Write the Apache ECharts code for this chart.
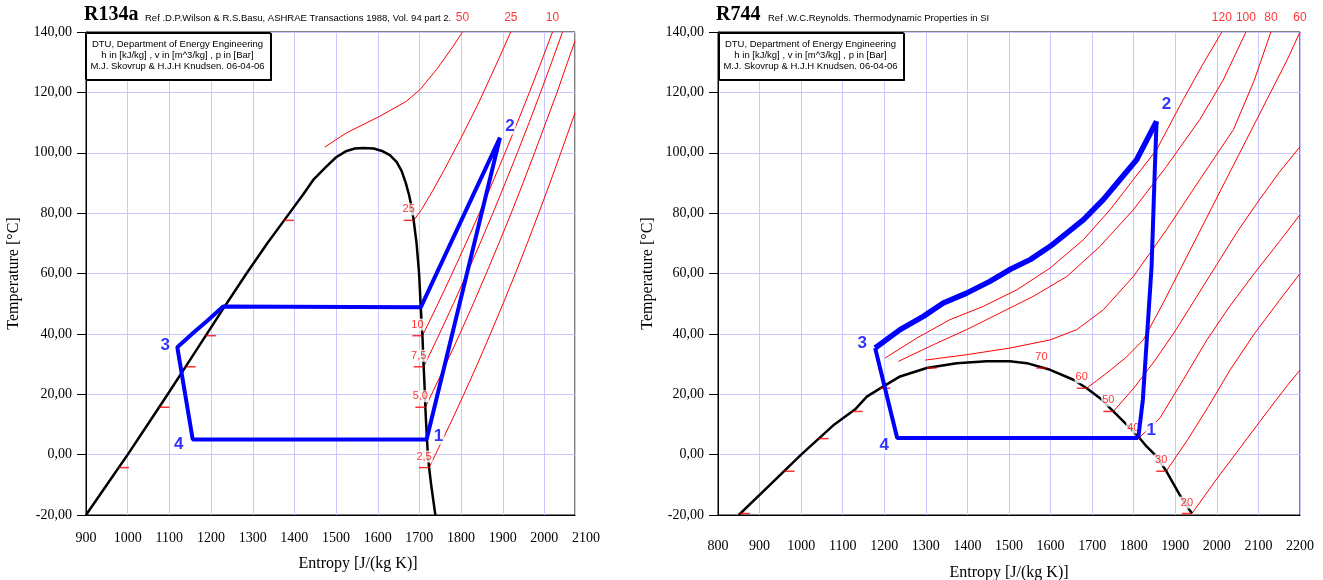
<!DOCTYPE html>
<html>
<head>
<meta charset="utf-8">
<script src="https://cdn.jsdelivr.net/npm/echarts@6/dist/echarts.min.js"></script>
<style>
html,body{margin:0;padding:0;background:#fff}
#chart{width:1323px;height:580px}
</style>
</head>
<body>
<div id="chart"></div>
<script>
// ---------- R134a  (entropy J/(kg K), temperature °C) ----------
const r134aDome = [
  [900,-20],[950,-10],[1000,0],[1048,10],[1096,20],[1143,30],[1190,40],[1237,50],[1285,60],
  [1335,70],[1388,80],[1420,86],[1445,91],[1477,95.5],[1500,98.5],[1525,100.6],[1545,101.4],
  [1565,101.6],[1590,101.4],[1610,100.6],[1629,99.2],[1645,97],[1657,94],[1667,90],[1675,86],
  [1681,82],[1686,77.6],[1693,70],[1699,60],[1703,48.8],[1707,39.4],[1710,29.1],[1713,20],
  [1714,15.7],[1716,10],[1720,0],[1723,-4.3],[1728,-10],[1738,-20]
];
const r134aCycle = [
  [1717,5],[1893,105],[1703,48.8],[1229,49.1],[1189,44.1],[1161,40.8],[1119,35.6],[1156,5],[1717,5]
];
const r134aP2_5 = [[1723,-4.3],[1738,0],[1773,10],[1806.5,20],[1839,30],[1870,40],[1900.5,50],[1930,60],[1958.5,70],[1986,80],[2013,90],[2039,100],[2073,113.2]];
const r134aP5 = [[1714,15.7],[1729,20],[1763.5,30],[1796.7,40],[1829,50],[1860,60],[1890.4,70],[1920,80],[1948.4,90],[1976,100],[2003,110],[2030,120],[2055,130],[2073,137]];
const r134aP7_5 = [[1710,29.1],[1729.6,34.7],[1747.8,40],[1781.3,50],[1813.8,60],[1845.3,70],[1876,80],[1905.7,90],[1934.7,100],[1963,110],[1990.4,120],[2017,130],[2043,140]];
const r134aP10 = [[1707,39.4],[1719.8,43],[1744.3,50],[1778.4,60],[1811.4,70],[1843.5,80],[1874.8,90],[1905.2,100],[1934.8,110],[1963.6,120],[1991.7,130],[2019,140]];
const r134aP25 = [[1686,77.6],[1705,81.2],[1730,87],[1760,94.5],[1800,105],[1840,116],[1880,128],[1919,140]];
const r134aP50 = [[1473,101.9],[1525,106.6],[1605,112.1],[1669,117.1],[1701,120.9],[1741,127.6],[1781,135.3],[1803,140]];
// saturation marks: pressure [bar] text, liquid side and vapour side points
const r134aMarkText = ['2,5','5,0','7,5','10','25'];
const r134aMarkLiq = [[979,-4.3],[1076,15.7],[1139,29.1],[1188,39.4],[1375,77.6]];
const r134aMarkVap = [[1723,-4.3],[1714,15.7],[1710,29.1],[1707,39.4],[1686,77.6]];
const r134aTopText = ['50','25','10'];

// ---------- R744 ----------
const r744Dome = [
  [850,-20],[925,-10],[1000,0],[1080,10],[1130,15],[1158,19.2],[1198,22.6],[1238,25.9],[1302,28.7],
  [1374,30.3],[1446,30.9],[1502,30.9],[1543,30.3],[1599,28.1],[1655,24.8],[1687,22],[1719,18.7],
  [1751,14.3],[1783,9.9],[1811,6],[1831,2.7],[1855,-0.6],[1879,-5.6],[1911,-13.4],[1940,-19.5]
];
const r744Cycle = [
  [1811,5.5],[1822,18.2],[1843,62.3],[1851,95.5],[1855,110.4],[1807,97.7],[1767,91.1],[1727,84.5],
  [1679,77.8],[1639,73.4],[1599,69.0],[1551,64.6],[1502,61.3],[1454,57.4],[1398,53.5],[1342,50.2],
  [1294,45.8],[1238,41.4],[1178,35.3],[1231,5.5],[1811,5.5]
];
const r744P20 = [[1940,-19.5],[2000,-8],[2060,3],[2120,14],[2170,23],[2200,28]];
const r744P30 = [[1878,-5.5],[1930,5],[1980,16],[2032,28.1],[2090,40],[2150,51],[2200,60]];
const r744P40 = [[1811,5.3],[1863,12.1],[1920,25],[1976,38],[2030,49],[2090,60],[2150,70.5],[2200,79.5]];
const r744P50 = [[1751,14.3],[1800,22],[1850,31],[1900,41],[1950,52],[2000,63],[2050,74],[2100,84],[2150,93.5],[2200,102]];
const r744P60 = [[1687,22],[1730,26.5],[1780,32],[1823,38],[1870,50],[1920,63.5],[1970,77],[2020,90.5],[2070,104],[2120,117.5],[2170,131],[2200,140]];
const r744P80 = [[1298,31.3],[1398,33.1],[1502,35.3],[1599,38],[1663,41.4],[1727,48],[1799,59],[1879,74.5],[1959,91.1],[2040,107.7],[2090,124],[2130,140]];
const r744P100 = [[1234,30.9],[1318,36.4],[1398,41.4],[1478,46.9],[1558,52.4],[1639,59],[1719,69],[1799,81.1],[1879,95.5],[1959,111],[2015,124],[2070,140]];
const r744P120 = [[1202,32],[1278,38.6],[1358,44.7],[1438,49.1],[1519,54.6],[1599,61.8],[1679,71.2],[1743,81.1],[1799,91.1],[1855,101],[1919,117.6],[1965,129],[2012,140]];
const r744MarkText = ['20','30','40','50','60','70'];
const r744MarkLiq = [[853,-19.5],[960,-5.5],[1042,5.3],[1124,14.3],[1190,22],[1302,28.7]];
const r744MarkVap = [[1940,-19.5],[1878,-5.5],[1811,5.3],[1751,14.3],[1687,22],[1590,28.7]];
const r744TopText = ['120','100','80','60'];

const yTicks = { min: -20, max: 140, step: 20 };

// ---------- styling ----------
const GRIDLINE = '#c8c8ff';
const RED = '#ff0000';
const BLUE = '#0000ff';
const SERIF = '"Liberation Serif","Times New Roman",serif';
const SANS = '"Liberation Sans",Arial,sans-serif';

const chart = echarts.init(document.getElementById('chart'), null, { renderer: 'canvas' });

function yAxis(gridIndex, show, nameGap) {
  return {
    type: 'value', gridIndex, min: yTicks.min, max: yTicks.max, interval: yTicks.step, show,
    axisLine: { show: true, onZero: false, lineStyle: { color: '#000', width: 1 } },
    axisTick: { show: true, length: 9, lineStyle: { color: '#000' } },
    axisLabel: { formatter: v => v.toFixed(2).replace('.', ','), fontFamily: SERIF, fontSize: 14, color: '#000', margin: 14 },
    splitLine: { show: true, lineStyle: { color: GRIDLINE, width: 1 } },
    name: 'Temperature [°C]', nameLocation: 'middle', nameGap, nameRotate: 90,
    nameTextStyle: { fontFamily: SERIF, fontSize: 16, color: '#000' }
  };
}

function line(data, xi, color, width, z) {
  return { type: 'line', xAxisIndex: xi, yAxisIndex: xi, data, symbol: 'none', showSymbol: false,
           lineStyle: { color, width }, z, silent: true, animation: false };
}

function marks(data, xi, side) {
  return { type: 'scatter', xAxisIndex: xi, yAxisIndex: xi, data, symbol: 'rect', symbolSize: [10, 1.5],
           symbolOffset: [side * 5, 0], itemStyle: { color: RED }, z: 4, silent: true, animation: false };
}

function markLabels(points, texts, xi) {
  return { type: 'scatter', xAxisIndex: xi, yAxisIndex: xi, symbolSize: 0, z: 5, silent: true, animation: false,
           data: points.map((p, i) => [p[0], p[1], texts[i]]),
           label: { show: true, position: 'inside', offset: [-5, -11], formatter: p => p.data[2],
                    color: RED, fontFamily: SANS, fontSize: 11, backgroundColor: '#fff', padding: [0, 1, 0, 1], lineHeight: 12 } };
}

function topLabels(lines, texts, xi) {
  return { type: 'scatter', xAxisIndex: xi, yAxisIndex: xi, symbolSize: 0, z: 5, silent: true, animation: false,
           clip: false,
           data: lines.map((l, i) => [l[l.length - 1][0], l[l.length - 1][1], texts[i]]),
           label: { show: true, position: 'inside', offset: [0, -14], formatter: p => p.data[2],
                    color: RED, fontFamily: SANS, fontSize: 12 } };
}

function cycleLabels(items, xi) {
  return { type: 'scatter', xAxisIndex: xi, yAxisIndex: xi, symbolSize: 0, z: 8, silent: true, animation: false,
           data: items.map(it => ({ value: it.p, label: { offset: it.off, formatter: it.t } })),
           label: { show: true, position: 'inside', color: BLUE, fontFamily: SANS, fontSize: 17, fontWeight: 'bold',
                    backgroundColor: '#fff', padding: [0, 1, 0, 1], lineHeight: 16 } };
}

const series = [
  // R134a
  line(r134aP2_5, 0, RED, 1, 2), line(r134aP5, 0, RED, 1, 2), line(r134aP7_5, 0, RED, 1, 2),
  line(r134aP10, 0, RED, 1, 2), line(r134aP25, 0, RED, 1, 2), line(r134aP50, 0, RED, 1, 2),
  line(r134aDome, 0, '#000', 2.5, 3),
  marks(r134aMarkLiq, 0, 1), marks(r134aMarkVap, 0, -1),
  markLabels(r134aMarkVap, r134aMarkText, 0),
  topLabels([r134aP50, r134aP25, r134aP10], r134aTopText, 0),
  line(r134aCycle, 0, BLUE, 4, 6),
  cycleLabels([
    { p: r134aCycle[0], t: '1', off: [12, -3] },
    { p: r134aCycle[1], t: '2', off: [10, -11] },
    { p: r134aCycle[6], t: '3', off: [-12, -2] },
    { p: r134aCycle[7], t: '4', off: [-14, 5] }
  ], 0),
  // R744
  line(r744P20, 2, RED, 1, 2), line(r744P30, 2, RED, 1, 2), line(r744P40, 2, RED, 1, 2),
  line(r744P50, 2, RED, 1, 2), line(r744P60, 2, RED, 1, 2),
  line(r744P80, 2, RED, 1, 2), line(r744P100, 2, RED, 1, 2), line(r744P120, 2, RED, 1, 2),
  line(r744Dome, 2, '#000', 2.5, 3),
  marks(r744MarkLiq, 2, 1), marks(r744MarkVap, 2, -1),
  markLabels(r744MarkVap, r744MarkText, 2),
  topLabels([r744P120, r744P100, r744P80, r744P60], r744TopText, 2),
  line(r744Cycle.slice(0, 5), 2, BLUE, 4, 6),
  line(r744Cycle.slice(4, 19), 2, BLUE, 5.5, 6),
  line(r744Cycle.slice(18), 2, BLUE, 4, 6),
  cycleLabels([
    { p: r744Cycle[0], t: '1', off: [13, -8] },
    { p: r744Cycle[4], t: '2', off: [10, -17] },
    { p: r744Cycle[18], t: '3', off: [-13, -5] },
    { p: r744Cycle[19], t: '4', off: [-13, 7] }
  ], 2)
];

const infoText = 'DTU, Department of Energy Engineering\nh in [kJ/kg] , v in [m^3/kg] , p in [Bar]\nM.J. Skovrup & H.J.H Knudsen. 06-04-06';

function infoBox(x, w) {
  return [
    { type: 'rect', z: 100, shape: { x: x + 0.5, y: 32.5, width: w, height: 47 },
      style: { fill: '#fff', stroke: '#000', lineWidth: 1, shadowColor: '#000', shadowOffsetX: 1, shadowOffsetY: 1, shadowBlur: 0 } },
    { type: 'text', z: 101, x: x + w / 2, y: 39,
      style: { text: infoText, textAlign: 'center', textVerticalAlign: 'top', font: '9.5px ' + SANS, lineHeight: 11, fill: '#000' } }
  ];
}

const xLabel = { fontFamily: SERIF, fontSize: 14, color: '#000', formatter: v => String(v) };

chart.setOption({
  backgroundColor: '#fff',
  animation: false,
  title: [
    { text: 'R134a', left: 84, top: 5, padding: 0, textStyle: { fontFamily: SERIF, fontSize: 20, fontWeight: 'bold', color: '#000' } },
    { text: 'Ref .D.P.Wilson & R.S.Basu, ASHRAE Transactions 1988, Vol. 94 part 2.', left: 145, top: 13, padding: 0,
      textStyle: { fontFamily: SANS, fontSize: 9.5, fontWeight: 'normal', color: '#000' } },
    { text: 'R744', left: 716, top: 5, padding: 0, textStyle: { fontFamily: SERIF, fontSize: 20, fontWeight: 'bold', color: '#000' } },
    { text: 'Ref .W.C.Reynolds. Thermodynamic Properties in SI', left: 768, top: 13, padding: 0,
      textStyle: { fontFamily: SANS, fontSize: 9.5, fontWeight: 'normal', color: '#000' } }
  ],
  grid: [
    { left: 86, top: 32, width: 489, height: 483, show: true, borderColor: '#000', borderWidth: 1, outerBoundsMode: 'none' },
    { left: 86, top: 32, width: 500, height: 483, show: false, outerBoundsMode: 'none' },
    { left: 718, top: 32, width: 582, height: 483, show: true, borderColor: '#000', borderWidth: 1, outerBoundsMode: 'none' }
  ],
  xAxis: [
    { type: 'value', gridIndex: 0, min: 900, max: 2073, interval: 100,
      axisLine: { show: true, onZero: false, lineStyle: { color: '#000' } }, axisTick: { show: false }, axisLabel: { show: false },
      splitLine: { show: true, lineStyle: { color: GRIDLINE, width: 1 } } },
    { type: 'value', gridIndex: 1, min: 900, max: 2100, interval: 100,
      axisLine: { show: false, onZero: false }, axisTick: { show: false }, splitLine: { show: false },
      axisLabel: Object.assign({ margin: 16 }, xLabel),
      name: 'Entropy [J/(kg K)]', nameLocation: 'middle', nameGap: 41,
      nameTextStyle: { fontFamily: SERIF, fontSize: 16, color: '#000', padding: [0, 0, 0, 44] } },
    { type: 'value', gridIndex: 2, min: 800, max: 2200, interval: 100,
      axisLine: { show: true, onZero: false, lineStyle: { color: '#000' } }, axisTick: { show: false },
      axisLabel: Object.assign({ margin: 24 }, xLabel),
      splitLine: { show: true, lineStyle: { color: GRIDLINE, width: 1 } },
      name: 'Entropy [J/(kg K)]', nameLocation: 'middle', nameGap: 50,
      nameTextStyle: { fontFamily: SERIF, fontSize: 16, color: '#000' } }
  ],
  yAxis: [
    yAxis(0, true, 64),
    Object.assign(yAxis(1, false, 0), { show: false }),
    yAxis(2, true, 62)
  ],
  series,
  graphic: [].concat(infoBox(85, 185), infoBox(718, 185))
});
</script>
</body>
</html>
